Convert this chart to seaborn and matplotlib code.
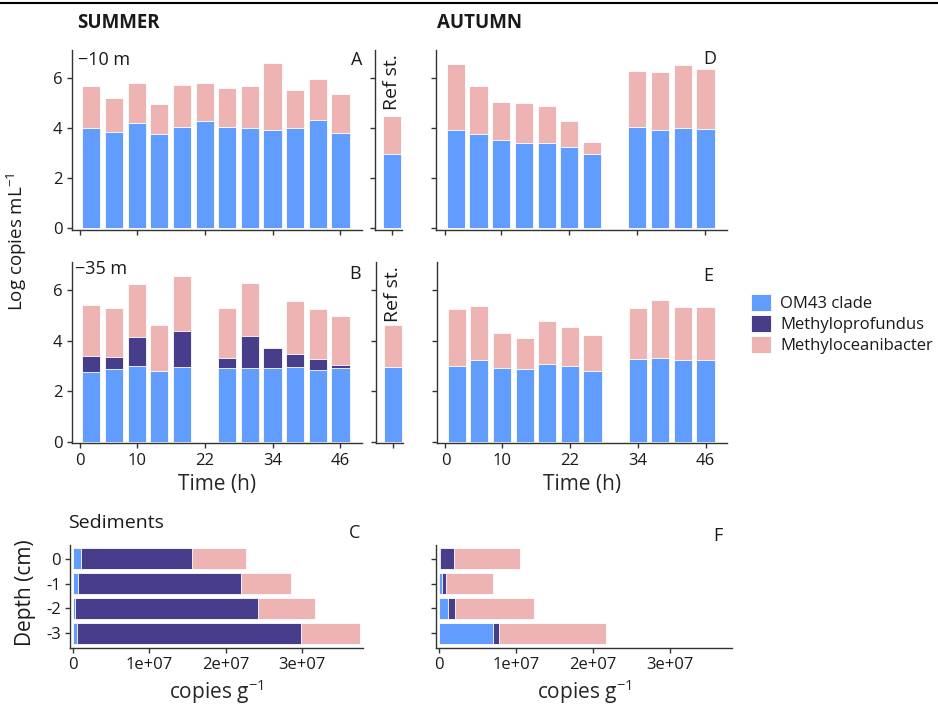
import numpy as np
import pandas as pd
import matplotlib
matplotlib.use("Agg")
import matplotlib.pyplot as plt
from matplotlib.patches import Patch
from matplotlib.lines import Line2D
import seaborn as sns

# ---------------- data ----------------
taxa = ["OM43 clade", "Methyloprofundus", "Methyloceanibacter"]
colors = {"OM43 clade": "#619CFF", "Methyloprofundus": "#483D8B",
          "Methyloceanibacter": "#EEB4B4"}

# sampling times (h) for each water-column panel
time_summer_10 = [2, 6, 10, 14, 18, 22, 26, 30, 34, 38, 42, 46]
time_summer_35 = [2, 6, 10, 14, 18, 26, 30, 34, 38, 42, 46]
time_autumn = [2, 6, 10, 14, 18, 22, 26, 34, 38, 42, 46]

# stacked segment heights (log copies mL-1)
summer10_om43 = [4.00, 3.85, 4.19, 3.76, 4.05, 4.28, 4.05, 4.01, 3.93, 4.03, 4.35, 3.81]
summer10_mprof = [0, 0, 0, 0, 0, 0, 0, 0, 0, 0, 0, 0]
summer10_mocean = [1.69, 1.38, 1.60, 1.21, 1.67, 1.52, 1.58, 1.68, 2.67, 1.49, 1.64, 1.55]

summer35_om43 = [2.78, 2.89, 3.01, 2.82, 2.95, 2.94, 2.93, 2.94, 2.97, 2.86, 2.94]
summer35_mprof = [0.62, 0.46, 1.16, 0.00, 1.43, 0.37, 1.28, 0.77, 0.53, 0.42, 0.11]
summer35_mocean = [2.04, 1.95, 2.08, 1.80, 2.18, 2.00, 2.08, 0.00, 2.10, 1.97, 1.94]

autumn10_om43 = [3.92, 3.77, 3.53, 3.43, 3.41, 3.25, 2.97, 4.05, 3.93, 4.00, 3.97]
autumn10_mprof = [0, 0, 0, 0, 0, 0, 0, 0, 0, 0, 0]
autumn10_mocean = [2.67, 1.91, 1.52, 1.57, 1.50, 1.04, 0.50, 2.24, 2.31, 2.52, 2.39]

autumn35_om43 = [3.02, 3.25, 2.91, 2.87, 3.10, 3.01, 2.82, 3.27, 3.31, 3.26, 3.26]
autumn35_mprof = [0, 0, 0, 0, 0, 0, 0, 0, 0, 0, 0]
autumn35_mocean = [2.25, 2.14, 1.39, 1.24, 1.68, 1.55, 1.42, 2.05, 2.33, 2.09, 2.09]

# reference station (om43, methyloprofundus, methyloceanibacter)
ref10 = [2.96, 0.0, 1.53]
ref35 = [2.97, 0.0, 1.65]

# sediments (copies g-1)
depths = ["0", "-1", "-2", "-3"]
sed_summer_om43 = [0.11e7, 0.065e7, 0.03e7, 0.057e7]
sed_summer_mprof = [1.45e7, 2.135e7, 2.40e7, 2.933e7]
sed_summer_mocean = [0.71e7, 0.65e7, 0.74e7, 0.77e7]
sed_autumn_om43 = [0.01e7, 0.043e7, 0.11e7, 0.70e7]
sed_autumn_mprof = [0.186e7, 0.053e7, 0.094e7, 0.08e7]
sed_autumn_mocean = [0.854e7, 0.604e7, 1.022e7, 1.39e7]

time_ticks = [0, 10, 22, 34, 46]
log_ticks = [0, 2, 4, 6]
sed_ticks = [0, 1e7, 2e7, 3e7]
sed_ticklabels = ["0", "1e+07", "2e+07", "3e+07"]

# ---------------- style ----------------
sns.set_theme(style="ticks")
plt.rcParams["font.family"] = ["Open Sans", "DejaVu Sans"]
plt.rcParams["mathtext.default"] = "regular"
AX_COL = "#333333"
plt.rcParams.update({
    "axes.edgecolor": AX_COL, "axes.linewidth": 1.0,
    "xtick.color": AX_COL, "ytick.color": AX_COL,
    "xtick.labelcolor": "#1a1a1a", "ytick.labelcolor": "#1a1a1a",
    "xtick.major.size": 3.5, "ytick.major.size": 3.5,
    "xtick.major.width": 1.0, "ytick.major.width": 1.0,
    "xtick.labelsize": 12, "ytick.labelsize": 12,
    "xtick.major.pad": 3.0, "ytick.major.pad": 3.0,
    "text.color": "#1a1a1a",
})

W, H = 938, 707
fig = plt.figure(figsize=(W / 100, H / 100), dpi=100)


def box(l, t, r, b):
    return [l / W, 1 - b / H, (r - l) / W, (b - t) / H]


def ftext(x, y, s, **kw):
    fig.text(x / W, 1 - y / H, s, **kw)


EDGE = dict(edgecolor="white", linewidth=0.6)
YLIM = (-0.07, 7.13)
XLIM = (-1.5, 49.8)


def stacked_time(ax, t, om43, mprof, mocean, show_y, show_x):
    df = pd.DataFrame({"time": t, "om43": om43, "mprof": mprof, "mocean": mocean})
    df["c1"] = df["om43"]
    df["c2"] = df["c1"] + df["mprof"]
    df["c3"] = df["c2"] + df["mocean"]
    for col, taxon in [("c3", taxa[2]), ("c2", taxa[1]), ("c1", taxa[0])]:
        sns.barplot(data=df, x="time", y=col, native_scale=True, width=0.8,
                    color=colors[taxon], saturation=1, errorbar=None, ax=ax, **EDGE)
    ax.set_xlim(*XLIM)
    ax.set_ylim(*YLIM)
    ax.set_xticks(time_ticks)
    ax.set_yticks(log_ticks)
    ax.set_xlabel("")
    ax.set_ylabel("")
    if not show_y:
        ax.set_yticklabels([])
    if show_x:
        ax.set_xticklabels([str(v) for v in time_ticks])
    else:
        ax.set_xticklabels([])
    sns.despine(ax=ax)


def stacked_ref(ax, vals):
    c1 = vals[0]
    c2 = c1 + vals[1]
    c3 = c2 + vals[2]
    for v, taxon in [(c3, taxa[2]), (c2, taxa[1]), (c1, taxa[0])]:
        sns.barplot(x=["ref"], y=[v], width=0.8, color=colors[taxon],
                    saturation=1, errorbar=None, ax=ax, **EDGE)
    ax.set_xlim(-0.75, 0.45)
    ax.set_ylim(*YLIM)
    ax.set_yticks(log_ticks)
    ax.set_yticklabels([])
    ax.set_xticks([0])
    ax.set_xticklabels([])
    ax.set_xlabel("")
    ax.set_ylabel("")
    sns.despine(ax=ax)
    ax.text(0.62, 0.975, "Ref st.", rotation=90, transform=ax.transAxes,
            ha="center", va="top", fontsize=14)


def stacked_sed(ax, om43, mprof, mocean, show_y):
    df = pd.DataFrame({"depth": depths, "om43": om43, "mprof": mprof, "mocean": mocean})
    df["c1"] = df["om43"]
    df["c2"] = df["c1"] + df["mprof"]
    df["c3"] = df["c2"] + df["mocean"]
    for col, taxon in [("c3", taxa[2]), ("c2", taxa[1]), ("c1", taxa[0])]:
        sns.barplot(data=df, x=col, y="depth", orient="h", order=depths, width=0.83,
                    color=colors[taxon], saturation=1, errorbar=None, ax=ax, **EDGE)
    ax.set_xlim(-0.04e7, 3.8e7)
    ax.set_ylim(3.59, -0.55)
    ax.set_xticks(sed_ticks)
    ax.set_xticklabels(sed_ticklabels)
    ax.set_xlabel("copies g$^{-1}$", fontsize=15, labelpad=3)
    ax.set_ylabel("")
    if not show_y:
        ax.set_yticklabels([])
    sns.despine(ax=ax)


# ---------------- panels ----------------
axA = fig.add_axes(box(71.5, 50, 362, 230))
stacked_time(axA, time_summer_10, summer10_om43, summer10_mprof, summer10_mocean, True, False)
axRA = fig.add_axes(box(375, 50, 402, 230))
stacked_ref(axRA, ref10)
axD = fig.add_axes(box(436, 50, 727, 230))
stacked_time(axD, time_autumn, autumn10_om43, autumn10_mprof, autumn10_mocean, False, False)

axB = fig.add_axes(box(71.5, 262, 362, 443.5))
stacked_time(axB, time_summer_35, summer35_om43, summer35_mprof, summer35_mocean, True, True)
axRB = fig.add_axes(box(376, 262, 403, 443.5))
stacked_ref(axRB, ref35)
axE = fig.add_axes(box(437, 262, 727, 443.5))
stacked_time(axE, time_autumn, autumn35_om43, autumn35_mprof, autumn35_mocean, False, True)
axB.set_xlabel("Time (h)", fontsize=15, labelpad=4)
axE.set_xlabel("Time (h)", fontsize=15, labelpad=4)

axC = fig.add_axes(box(70, 545, 363, 648))
stacked_sed(axC, sed_summer_om43, sed_summer_mprof, sed_summer_mocean, True)
axF = fig.add_axes(box(436, 545, 732, 648))
stacked_sed(axF, sed_autumn_om43, sed_autumn_mprof, sed_autumn_mocean, False)

# ---------------- annotations ----------------
ftext(77, 23, "SUMMER", fontsize=13.5, fontweight="bold", va="center", ha="left")
ftext(437, 23, "AUTUMN", fontsize=13.5, fontweight="bold", va="center", ha="left")
ftext(78, 60, "\u221210 m", fontsize=13, va="center", ha="left")
ftext(75, 269, "\u221235 m", fontsize=13, va="center", ha="left")
for x, y, s in [(357, 60, "A"), (355, 274, "B"), (710, 59, "D"), (708, 276, "E"),
                (355, 533, "C"), (718, 536, "F")]:
    ftext(x, y, s, fontsize=13, va="center", ha="center")
ftext(68, 523, "Sediments", fontsize=14, va="center", ha="left")
ftext(17, 242, "Log copies mL$^{-1}$", fontsize=13.5, rotation=90, va="center", ha="center")
ftext(25, 593, "Depth (cm)", fontsize=15, rotation=90, va="center", ha="center")

# rule across the top
fig.add_artist(Line2D([0, 1], [1 - 3 / H, 1 - 3 / H], color="black", linewidth=1.5,
                      transform=fig.transFigure))

# legend
handles = [Patch(facecolor=colors[t], edgecolor="white", linewidth=0.6, label=t) for t in taxa]
fig.legend(handles=handles, loc="upper left", bbox_to_anchor=(751 / W, 1 - 294 / H),
           frameon=False, fontsize=12, handlelength=1.2, handleheight=1.15,
           handletextpad=0.55, labelspacing=0.2, borderpad=0, borderaxespad=0)

fig.savefig("out.png", dpi=100)
